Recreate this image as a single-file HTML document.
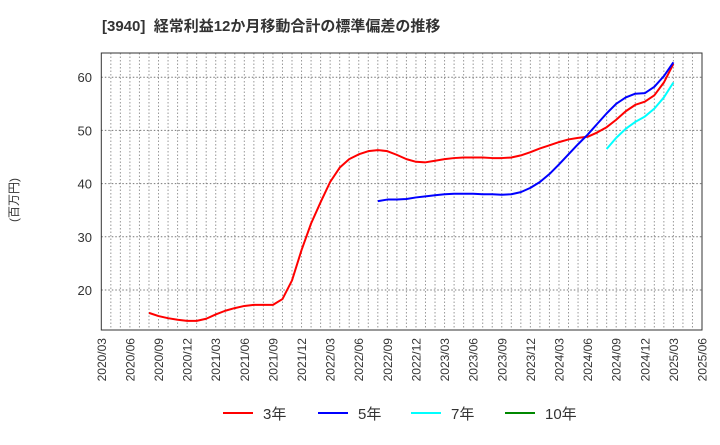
<!DOCTYPE html>
<html><head><meta charset="utf-8"><style>
body{margin:0;background:#fff;font-family:"Liberation Sans","Noto Sans CJK JP",sans-serif;}
svg text{font-family:"Liberation Sans","Noto Sans CJK JP",sans-serif;}
</style></head><body>
<svg id="c" width="720" height="440">
<text x="102" y="31" font-size="15" font-weight="bold" fill="#333" xml:space="preserve">[3940]  経常利益12か月移動合計の標準偏差の推移</text>
<text transform="translate(18,200) rotate(-90)" font-size="12" fill="#333" text-anchor="middle">(百万円)</text>
<g id="grid"></g><g id="ticks"></g><g id="series"></g>
<rect x="101.3" y="53" width="600.7" height="277" fill="none" stroke="#333" stroke-width="1"/>
<g>
<g><line x1="223" y1="413" x2="253" y2="413" stroke="#f00" stroke-width="2"/><text x="263" y="419" font-size="15" fill="#333">3年</text></g>
<g><line x1="318" y1="413" x2="348" y2="413" stroke="#00f" stroke-width="2"/><text x="358" y="419" font-size="15" fill="#333">5年</text></g>
<g><line x1="411" y1="413" x2="441" y2="413" stroke="#0ff" stroke-width="2"/><text x="451" y="419" font-size="15" fill="#333">7年</text></g>
<g><line x1="505" y1="413" x2="535" y2="413" stroke="#080" stroke-width="2"/><text x="545" y="419" font-size="15" fill="#333">10年</text></g>
</g>
</svg>
<script>
const xLabels=["2020/03","2020/06","2020/09","2020/12","2021/03","2021/06","2021/09","2021/12","2022/03","2022/06","2022/09","2022/12","2023/03","2023/06","2023/09","2023/12","2024/03","2024/06","2024/09","2024/12","2025/03","2025/06"];
const yTicks=[20,30,40,50,60];
const red3=[15.7,15.1,14.7,14.4,14.2,14.2,14.6,15.4,16.1,16.6,17.0,17.2,17.2,17.2,18.3,21.8,27.5,32.5,36.5,40.3,43.0,44.6,45.5,46.1,46.3,46.1,45.4,44.6,44.1,44.0,44.3,44.6,44.8,44.9,44.9,44.9,44.8,44.8,44.9,45.3,45.9,46.6,47.2,47.8,48.3,48.6,48.8,49.6,50.6,52.0,53.6,54.8,55.4,56.6,59.0,62.5];
const red3Start=5;
const blue5=[36.7,37.0,37.0,37.1,37.4,37.6,37.8,38.0,38.1,38.1,38.1,38.0,38.0,37.9,38.0,38.4,39.2,40.3,41.8,43.6,45.5,47.4,49.2,51.2,53.2,55.0,56.2,56.9,57.0,58.2,60.2,62.8];
const blue5Start=29;
const cyan7=[46.5,48.6,50.3,51.6,52.6,54.1,56.2,59.0];
const cyan7Start=53;
const L=101.3,R=702,T=53,B=330,nM=63;
const x=m=>L+(R-L)*m/nM;
const y=v=>290-(v-20)*5.32;
const NS="http://www.w3.org/2000/svg";
const grid=document.getElementById('grid'),ticks=document.getElementById('ticks'),ser=document.getElementById('series');
for(let m=1;m<nM;m++){const l=document.createElementNS(NS,'line');
l.setAttribute('x1',x(m));l.setAttribute('x2',x(m));l.setAttribute('y1',T);l.setAttribute('y2',B);
l.setAttribute('stroke','#999');l.setAttribute('stroke-dasharray','1.5,2');


grid.appendChild(l);}
yTicks.forEach(v=>{const l=document.createElementNS(NS,'line');
l.setAttribute('x1',L);l.setAttribute('x2',R);l.setAttribute('y1',y(v));l.setAttribute('y2',y(v));
l.setAttribute('stroke','#777');l.setAttribute('stroke-dasharray','1.5,2');


grid.appendChild(l);
const t=document.createElementNS(NS,'text');t.setAttribute('x',92);t.setAttribute('y',y(v)+5);
t.setAttribute('text-anchor','end');t.setAttribute('font-size','13');t.setAttribute('fill','#333');t.textContent=v;


ticks.appendChild(t);});
xLabels.forEach((s,i)=>{const t=document.createElementNS(NS,'text');const xx=x(i*3)+4.5;
t.setAttribute('transform','translate('+xx+',338) rotate(-90)');t.setAttribute('text-anchor','end');
t.setAttribute('font-size','12');t.setAttribute('fill','#333');t.textContent=s;


ticks.appendChild(t);});
function draw(vals,start,color,name){const p=document.createElementNS(NS,'polyline');
p.setAttribute('points',vals.map((v,i)=>x(start+i)+','+y(v)).join(' '));
p.setAttribute('fill','none');p.setAttribute('stroke',color);p.setAttribute('stroke-width','2');
p.setAttribute('stroke-linejoin','round');


ser.appendChild(p);}
draw(red3,red3Start,'#f00','series-3y');
draw(blue5,blue5Start,'#00f','series-5y');
draw(cyan7,cyan7Start,'#0ff','series-7y');
</script>
</body></html>
